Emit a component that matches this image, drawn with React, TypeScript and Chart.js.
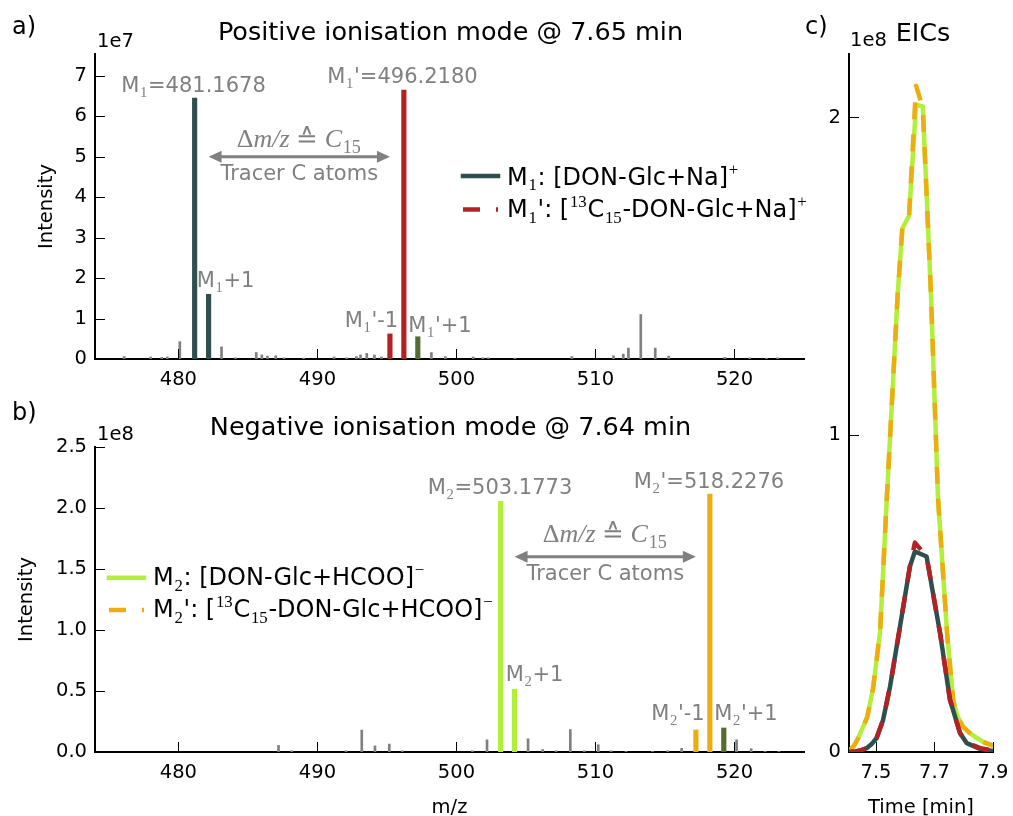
import React, { useEffect, useRef } from "react";
import { Chart, registerables } from "chart.js";

Chart.register(...registerables);

const W = 1013;
const H = 816;
const SANS = "'DejaVu Sans', sans-serif";
const SERIF = "'Liberation Serif', 'DejaVu Serif', serif";

const DSG = "#2F4F4F";
const FIRE = "#B22222";
const DOG = "#556B2F";
const GY = "#B3EE3A";
const ORG = "#EEAD0E";
const GRAY = "#808080";

// ---------- shared axis ticks
const mzRange = [474, 525];
const mzTicks = [480, 490, 500, 510, 520];

// ---------- panel a: positive mode spectrum
const posIntMax = 7.54e7;
const posYTicks = [0, 1e7, 2e7, 3e7, 4e7, 5e7, 6e7, 7e7];
const posM1Mz = [481.1678, 482.171];
const posM1Int = [6.45e7, 1.6e7];
const posM1LabMz = [495.215, 496.218];
const posM1LabInt = [0.62e7, 6.65e7];
const posM1LabPlusMz = [497.221];
const posM1LabPlusInt = [0.55e7];
const posOtherPeaks: [number, number][] = [
  [476.1, 0.06e7], [478.0, 0.05e7], [478.8, 0.04e7], [479.2, 0.05e7], [480.1, 0.43e7],
  [483.1, 0.3e7], [484.1, 0.03e7], [485.6, 0.16e7], [486.0, 0.1e7], [486.4, 0.07e7],
  [487.0, 0.08e7], [487.6, 0.03e7], [489.0, 0.02e7], [491.2, 0.05e7], [492.1, 0.03e7],
  [492.8, 0.06e7], [493.1, 0.1e7], [493.55, 0.14e7], [494.1, 0.1e7], [494.6, 0.05e7],
  [498.2, 0.16e7], [499.2, 0.06e7], [501.2, 0.05e7], [501.9, 0.03e7], [502.3, 0.03e7],
  [504.2, 0.02e7], [508.3, 0.06e7], [511.3, 0.08e7], [512.0, 0.12e7], [512.37, 0.27e7],
  [513.26, 1.1e7], [514.3, 0.27e7], [515.27, 0.07e7], [519.3, 0.04e7], [521.1, 0.03e7],
  [522.3, 0.02e7], [523.1, 0.03e7],
];
const posArrowMz = [482.171, 495.215];
const posArrowInt = 5e7;

// ---------- panel b: negative mode spectrum
const negIntMax = 2.5e8;
const negYTicks = [0, 0.5e8, 1e8, 1.5e8, 2e8, 2.5e8];
const negM2Mz = [503.1773, 504.181];
const negM2Int = [2.055e8, 0.515e8];
const negM2LabMz = [517.224, 518.2276];
const negM2LabInt = [0.18e8, 2.115e8];
const negM2LabPlusMz = [519.231];
const negM2LabPlusInt = [0.197e8];
const negOtherPeaks: [number, number][] = [
  [487.2, 0.054e8], [488.15, 0.01e8], [492.06, 0.01e8], [493.19, 0.18e8], [494.14, 0.05e8],
  [495.17, 0.065e8], [496.1, 0.01e8], [501.15, 0.01e8], [502.2, 0.1e8], [505.15, 0.108e8],
  [506.2, 0.02e8], [507.17, 0.01e8], [508.19, 0.184e8], [509.2, 0.01e8], [510.2, 0.06e8],
  [511.13, 0.01e8], [512.2, 0.005e8], [514.1, 0.005e8], [515.2, 0.01e8], [516.2, 0.03e8],
  [520.15, 0.1e8], [521.2, 0.027e8], [522.2, 0.005e8], [523.2, 0.005e8],
];
const negArrowMz = [504.181, 517.224];
const negArrowInt = 1.6e8;

// ---------- panel c: EICs
const eicRange = [7.4077, 7.9];
const eicXTicks = [7.5, 7.7, 7.9];
const eicIntMax = 2.2e8;
const eicYTicks = [0, 1e8, 2e8];
const negEicTime = [7.408, 7.425, 7.44, 7.47, 7.49, 7.514, 7.537, 7.574, 7.59, 7.613, 7.637, 7.66, 7.688, 7.712, 7.743, 7.764, 7.78, 7.797, 7.82, 7.845, 7.87, 7.9];
const negM2Eic = [0.003e8, 0.02e8, 0.045e8, 0.11e8, 0.2e8, 0.38e8, 0.8e8, 1.44e8, 1.65e8, 1.69e8, 2.04e8, 2.035e8, 1.44e8, 0.8e8, 0.375e8, 0.16e8, 0.11e8, 0.08e8, 0.06e8, 0.044e8, 0.03e8, 0.02e8];
const negM2LabEic = [0.003e8, 0.02e8, 0.045e8, 0.11e8, 0.2e8, 0.38e8, 0.8e8, 1.44e8, 1.65e8, 1.69e8, 2.1e8, 2.03e8, 1.44e8, 0.8e8, 0.375e8, 0.16e8, 0.11e8, 0.08e8, 0.06e8, 0.044e8, 0.03e8, 0.02e8];
const posEicTime = [7.408, 7.43, 7.45, 7.468, 7.485, 7.502, 7.524, 7.548, 7.582, 7.616, 7.633, 7.673, 7.695, 7.719, 7.753, 7.787, 7.81, 7.856, 7.9];
const posM1Eic = [0.0, 0.002e8, 0.006e8, 0.012e8, 0.025e8, 0.044e8, 0.1e8, 0.206e8, 0.395e8, 0.585e8, 0.632e8, 0.616e8, 0.5e8, 0.375e8, 0.164e8, 0.06e8, 0.028e8, 0.01e8, 0.003e8];
const posM1LabEic = [0.0, 0.002e8, 0.006e8, 0.012e8, 0.025e8, 0.044e8, 0.1e8, 0.206e8, 0.395e8, 0.585e8, 0.66e8, 0.616e8, 0.5e8, 0.375e8, 0.164e8, 0.06e8, 0.03e8, 0.012e8, 0.005e8];

// ---------- drawing helpers
type Seg = { t: string; s?: "sub" | "sup"; f?: string; i?: boolean };

function segFont(seg: Seg, size: number) {
  const sz = seg.s ? size * 0.7 : size;
  const fam = seg.f ?? (seg.s ? SERIF : SANS);
  return `${seg.i ? "italic " : ""}${sz}px ${fam}`;
}

function drawRich(ctx: CanvasRenderingContext2D, segs: Seg[], x: number, y: number, size: number, color: string, align: "left" | "center") {
  ctx.save();
  ctx.fillStyle = color;
  ctx.textBaseline = "alphabetic";
  ctx.textAlign = "left";
  const widths = segs.map((s) => {
    ctx.font = segFont(s, size);
    return ctx.measureText(s.t).width + (s.s ? size * 0.06 : 0);
  });
  const total = widths.reduce((a, b) => a + b, 0);
  let cx = align === "center" ? x - total / 2 : x;
  segs.forEach((s, k) => {
    ctx.font = segFont(s, size);
    const dy = s.s === "sub" ? size * 0.24 : s.s === "sup" ? -size * 0.4 : 0;
    ctx.fillText(s.t, cx + (s.s ? size * 0.03 : 0), y + dy);
    cx += widths[k];
  });
  ctx.restore();
}

function drawText(ctx: CanvasRenderingContext2D, text: string, x: number, y: number, size: number, align: CanvasTextAlign = "left", color = "#000") {
  ctx.save();
  ctx.font = `${size}px ${SANS}`;
  ctx.fillStyle = color;
  ctx.textAlign = align;
  ctx.textBaseline = "alphabetic";
  ctx.fillText(text, x, y);
  ctx.restore();
}

function drawVText(ctx: CanvasRenderingContext2D, text: string, x: number, y: number, size: number) {
  ctx.save();
  ctx.translate(x, y);
  ctx.rotate(-Math.PI / 2);
  ctx.font = `${size}px ${SANS}`;
  ctx.fillStyle = "#000";
  ctx.textAlign = "center";
  ctx.textBaseline = "alphabetic";
  ctx.fillText(text, 0, 0);
  ctx.restore();
}

function drawInwardTicks(chart: any) {
  const { ctx, chartArea } = chart;
  const xs = chart.scales.x;
  const ys = chart.scales.y;
  ctx.save();
  ctx.strokeStyle = "#000";
  ctx.lineWidth = 1;
  ctx.beginPath();
  xs.ticks.forEach((t: any) => {
    const px = Math.round(xs.getPixelForValue(t.value)) + 0.5;
    ctx.moveTo(px, chartArea.bottom);
    ctx.lineTo(px, chartArea.bottom - 10);
  });
  ys.ticks.forEach((t: any) => {
    const py = Math.round(ys.getPixelForValue(t.value)) + 0.5;
    ctx.moveTo(chartArea.left, py);
    ctx.lineTo(chartArea.left + 10, py);
  });
  ctx.stroke();
  ctx.restore();
}

function drawDoubleArrow(ctx: CanvasRenderingContext2D, x1: number, x2: number, y: number) {
  const hl = 13;
  const hw = 6;
  ctx.save();
  ctx.strokeStyle = GRAY;
  ctx.fillStyle = GRAY;
  ctx.lineWidth = 3;
  ctx.beginPath();
  ctx.moveTo(x1 + hl - 2, y);
  ctx.lineTo(x2 - hl + 2, y);
  ctx.stroke();
  ctx.beginPath();
  ctx.moveTo(x1, y);
  ctx.lineTo(x1 + hl, y - hw);
  ctx.lineTo(x1 + hl, y + hw);
  ctx.closePath();
  ctx.fill();
  ctx.beginPath();
  ctx.moveTo(x2, y);
  ctx.lineTo(x2 - hl, y - hw);
  ctx.lineTo(x2 - hl, y + hw);
  ctx.closePath();
  ctx.fill();
  ctx.restore();
}

function drawLegendHandle(ctx: CanvasRenderingContext2D, x1: number, x2: number, y: number, color: string, dashed: boolean) {
  ctx.save();
  ctx.strokeStyle = color;
  ctx.lineWidth = 4.5;
  if (dashed) {
    ctx.lineCap = "butt";
    ctx.setLineDash([17, 16]);
  } else {
    ctx.lineCap = "square";
  }
  ctx.beginPath();
  ctx.moveTo(x1, y);
  ctx.lineTo(x2, y);
  ctx.stroke();
  ctx.restore();
}

const mathSegs: Seg[] = [
  { t: "Δ", f: SERIF },
  { t: "m/z", f: SERIF, i: true },
  { t: " ≙ ", f: SERIF },
  { t: "C", f: SERIF, i: true },
  { t: "15", s: "sub", f: SERIF },
];

// ---------- chart config builders
function axisOptions(min: number, max: number, ticks: number[], fmt: (v: number) => string, horizontal: boolean) {
  return {
    type: "linear",
    min,
    max,
    offset: false,
    grid: { display: false, drawTicks: false },
    border: { display: true, color: "#000", width: 2 },
    ticks: {
      font: { family: SANS, size: 19.5 },
      color: "#000",
      padding: horizontal ? 9 : 8,
      maxRotation: 0,
      autoSkip: false,
      callback: (v: any) => fmt(Number(v)),
    },
    afterBuildTicks: (s: any) => {
      s.ticks = ticks.map((v) => ({ value: v }));
    },
    afterFit: (s: any) => {
      if (horizontal) s.height = 40;
      else s.width = 60;
      s.paddingLeft = 0;
      s.paddingRight = 0;
      s.paddingTop = 0;
      s.paddingBottom = 0;
    },
  };
}

function baseOptions(pad: any, xAxis: any, yAxis: any) {
  return {
    responsive: false,
    animation: false,
    events: [],
    layout: { padding: pad },
    plugins: {
      legend: { display: false },
      tooltip: { enabled: false },
      title: { display: false },
    },
    scales: { x: xAxis, y: yAxis },
  };
}

function barSet(mz: number[], ints: number[], color: string, thickness: number, order: number) {
  return {
    data: mz.map((x, i) => ({ x, y: ints[i] })),
    backgroundColor: color,
    borderWidth: 0,
    barThickness: thickness,
    grouped: false,
    order,
  };
}

function makeA(): any {
  return {
    type: "bar",
    data: {
      datasets: [
        barSet(posOtherPeaks.map((p) => p[0]), posOtherPeaks.map((p) => p[1]), GRAY, 2, 2),
        barSet(posM1Mz, posM1Int, DSG, 4.5, 1),
        barSet(posM1LabMz, posM1LabInt, FIRE, 4.5, 1),
        barSet(posM1LabPlusMz, posM1LabPlusInt, DOG, 4.5, 1),
      ],
    },
    options: baseOptions(
      { left: 35, top: 54, right: W - 804, bottom: H - 359 - 40 },
      axisOptions(mzRange[0], mzRange[1], mzTicks, (v) => String(v), true),
      axisOptions(0, posIntMax, posYTicks, (v) => String(Math.round(v / 1e7)), false)
    ),
    plugins: [
      {
        id: "decorA",
        afterDraw: (chart: any) => {
          const ctx = chart.ctx as CanvasRenderingContext2D;
          const xs = chart.scales.x;
          const ys = chart.scales.y;
          drawInwardTicks(chart);
          drawText(ctx, "a)", 12, 34, 24);
          drawText(ctx, "Positive ionisation mode @ 7.65 min", 450.5, 40, 25.5, "center");
          drawText(ctx, "1e7", 97, 46.5, 19.5);
          drawVText(ctx, "Intensity", 52, 206.5, 19.5);
          drawRich(ctx, [{ t: "M" }, { t: "1", s: "sub" }, { t: "=481.1678" }], 193.5, 92, 21, GRAY, "center");
          drawRich(ctx, [{ t: "M" }, { t: "1", s: "sub" }, { t: "'=496.2180" }], 402.5, 83, 21, GRAY, "center");
          drawRich(ctx, [{ t: "M" }, { t: "1", s: "sub" }, { t: "+1" }], 225.5, 287, 21, GRAY, "center");
          drawRich(ctx, [{ t: "M" }, { t: "1", s: "sub" }, { t: "'-1" }], 371.5, 327, 21, GRAY, "center");
          drawRich(ctx, [{ t: "M" }, { t: "1", s: "sub" }, { t: "'+1" }], 440, 332, 21, GRAY, "center");
          const ax1 = xs.getPixelForValue(posArrowMz[0]);
          const ax2 = xs.getPixelForValue(posArrowMz[1]);
          const ay = ys.getPixelForValue(posArrowInt);
          drawDoubleArrow(ctx, ax1, ax2, ay);
          drawRich(ctx, mathSegs, (ax1 + ax2) / 2, 146.5, 26, GRAY, "center");
          drawText(ctx, "Tracer C atoms", (ax1 + ax2) / 2, 180, 21, "center", GRAY);
          drawLegendHandle(ctx, 463, 498, 176, DSG, false);
          drawLegendHandle(ctx, 463, 498, 209.5, FIRE, true);
          drawRich(ctx, [{ t: "M" }, { t: "1", s: "sub" }, { t: ": [DON-Glc+Na]" }, { t: "+", s: "sup" }], 507, 184.5, 24, "#000", "left");
          drawRich(ctx, [{ t: "M" }, { t: "1", s: "sub" }, { t: "': [" }, { t: "13", s: "sup" }, { t: "C" }, { t: "15", s: "sub" }, { t: "-DON-Glc+Na]" }, { t: "+", s: "sup" }], 507, 217, 24, "#000", "left");
        },
      },
    ],
  };
}

function makeB(): any {
  return {
    type: "bar",
    data: {
      datasets: [
        barSet(negOtherPeaks.map((p) => p[0]), negOtherPeaks.map((p) => p[1]), GRAY, 2, 2),
        barSet(negM2Mz, negM2Int, GY, 4.5, 1),
        barSet(negM2LabMz, negM2LabInt, ORG, 4.5, 1),
        barSet(negM2LabPlusMz, negM2LabPlusInt, DOG, 4.5, 1),
      ],
    },
    options: baseOptions(
      { left: 35, top: 447, right: W - 804, bottom: H - 752 - 40 },
      axisOptions(mzRange[0], mzRange[1], mzTicks, (v) => String(v), true),
      axisOptions(0, negIntMax, negYTicks, (v) => (v / 1e8).toFixed(1), false)
    ),
    plugins: [
      {
        id: "decorB",
        afterDraw: (chart: any) => {
          const ctx = chart.ctx as CanvasRenderingContext2D;
          const xs = chart.scales.x;
          const ys = chart.scales.y;
          drawInwardTicks(chart);
          drawText(ctx, "b)", 12, 420, 24);
          drawText(ctx, "Negative ionisation mode @ 7.64 min", 450.5, 435, 25.5, "center");
          drawText(ctx, "1e8", 97, 440, 19.5);
          drawVText(ctx, "Intensity", 32, 599.5, 19.5);
          drawText(ctx, "m/z", 449.5, 813, 19.5, "center");
          drawRich(ctx, [{ t: "M" }, { t: "2", s: "sub" }, { t: "=503.1773" }], 500, 494, 21, GRAY, "center");
          drawRich(ctx, [{ t: "M" }, { t: "2", s: "sub" }, { t: "'=518.2276" }], 709, 488, 21, GRAY, "center");
          drawRich(ctx, [{ t: "M" }, { t: "2", s: "sub" }, { t: "+1" }], 534.5, 681, 21, GRAY, "center");
          drawRich(ctx, [{ t: "M" }, { t: "2", s: "sub" }, { t: "'-1" }], 678, 720, 21, GRAY, "center");
          drawRich(ctx, [{ t: "M" }, { t: "2", s: "sub" }, { t: "'+1" }], 746, 720, 21, GRAY, "center");
          const ax1 = xs.getPixelForValue(negArrowMz[0]);
          const ax2 = xs.getPixelForValue(negArrowMz[1]);
          const ay = ys.getPixelForValue(negArrowInt);
          drawDoubleArrow(ctx, ax1, ax2, ay);
          drawRich(ctx, mathSegs, (ax1 + ax2) / 2, 541.5, 26, GRAY, "center");
          drawText(ctx, "Tracer C atoms", (ax1 + ax2) / 2, 580, 21, "center", GRAY);
          drawLegendHandle(ctx, 109, 144, 577.7, GY, false);
          drawLegendHandle(ctx, 109, 144, 610, ORG, true);
          drawRich(ctx, [{ t: "M" }, { t: "2", s: "sub" }, { t: ": [DON-Glc+HCOO]" }, { t: "−", s: "sup" }], 153, 585, 24, "#000", "left");
          drawRich(ctx, [{ t: "M" }, { t: "2", s: "sub" }, { t: "': [" }, { t: "13", s: "sup" }, { t: "C" }, { t: "15", s: "sub" }, { t: "-DON-Glc+HCOO]" }, { t: "−", s: "sup" }], 153, 617, 24, "#000", "left");
        },
      },
    ],
  };
}

function lineSet(t: number[], v: number[], color: string, dashed: boolean, order: number) {
  return {
    data: t.map((x, i) => ({ x, y: v[i] })),
    borderColor: color,
    backgroundColor: color,
    borderWidth: 4.5,
    borderDash: dashed ? [17, 15] : [],
    borderCapStyle: dashed ? "butt" : "square",
    borderJoinStyle: "round",
    pointRadius: 0,
    tension: 0,
    fill: false,
    order,
  };
}

function makeC(): any {
  return {
    type: "line",
    data: {
      datasets: [
        lineSet(negEicTime, negM2Eic, GY, false, 4),
        lineSet(negEicTime, negM2LabEic, ORG, true, 3),
        lineSet(posEicTime, posM1Eic, DSG, false, 2),
        lineSet(posEicTime, posM1LabEic, FIRE, true, 1),
      ],
    },
    options: baseOptions(
      { left: 849 - 60, top: 54, right: W - 993, bottom: H - 752 - 40 },
      axisOptions(eicRange[0], eicRange[1], eicXTicks, (v) => v.toFixed(1), true),
      axisOptions(0, eicIntMax, eicYTicks, (v) => String(Math.round(v / 1e8)), false)
    ),
    plugins: [
      {
        id: "decorC",
        afterDraw: (chart: any) => {
          const ctx = chart.ctx as CanvasRenderingContext2D;
          drawInwardTicks(chart);
          drawText(ctx, "c)", 805, 34, 24);
          drawText(ctx, "1e8", 850, 45.7, 19.5);
          drawText(ctx, "EICs", 923, 41, 25.5, "center");
          drawText(ctx, "Time [min]", 921, 813, 19.5, "center");
        },
      },
    ],
  };
}

export default function App() {
  const refA = useRef<HTMLCanvasElement>(null);
  const refB = useRef<HTMLCanvasElement>(null);
  const refC = useRef<HTMLCanvasElement>(null);

  useEffect(() => {
    const charts = [
      new Chart(refA.current as HTMLCanvasElement, makeA()),
      new Chart(refB.current as HTMLCanvasElement, makeB()),
      new Chart(refC.current as HTMLCanvasElement, makeC()),
    ];
    return () => charts.forEach((c) => c.destroy());
  }, []);

  const cs: React.CSSProperties = { position: "absolute", left: 0, top: 0, width: W, height: H };
  return (
    <div style={{ position: "absolute", left: 0, top: 0, width: W, height: H, background: "#fff" }}>
      <canvas ref={refA} width={W} height={H} style={cs} />
      <canvas ref={refB} width={W} height={H} style={cs} />
      <canvas ref={refC} width={W} height={H} style={cs} />
    </div>
  );
}
